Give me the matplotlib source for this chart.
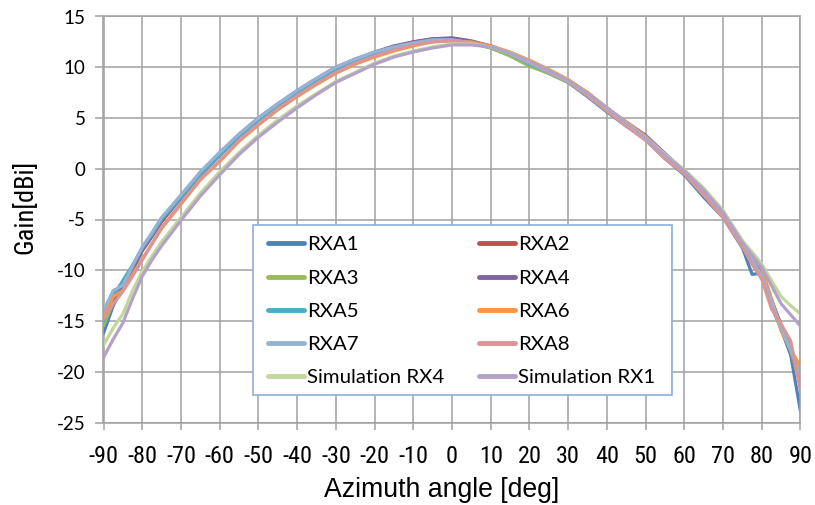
import matplotlib
matplotlib.use("Agg")
import matplotlib.pyplot as plt
from matplotlib import font_manager
from matplotlib.font_manager import FontProperties
from matplotlib.patches import Rectangle

angles = [-90, -87.5, -85, -82.5, -80, -77.5, -75, -70, -65, -60, -55, -50, -45, -40,
          -35, -30, -25, -20, -15, -10, -5, 0, 5, 10, 15, 20, 25, 30, 35, 40, 45, 50,
          55, 60, 65, 70, 75, 77.5, 80, 82.5, 85, 87.5, 90]

rxa1 = [-16.2, -13.5, -11.6, -10.2, -8.0, -6.6, -5.2, -2.9, -0.6, 1.3, 3.2, 4.8, 6.2, 7.5,
        8.7, 9.8, 10.6, 11.3, 11.9, 12.3, 12.6, 12.7, 12.4, 11.9, 11.2, 10.2, 9.4, 8.5,
        7.1, 5.6, 4.2, 2.9, 1.0, -0.6, -2.8, -4.8, -7.8, -10.4, -10.3, -13.5, -15.8, -18.4, -23.9]
rxa2 = [-14.5, -12.5, -11.4, -9.8, -8.1, -6.7, -5.2, -2.8, -0.5, 1.4, 3.2, 4.8, 6.3, 7.6,
        8.8, 9.9, 10.7, 11.4, 12.0, 12.5, 12.8, 12.8, 12.5, 12.1, 11.4, 10.5, 9.6, 8.6,
        7.3, 5.9, 4.5, 3.2, 1.4, -0.2, -2.3, -4.5, -7.4, -8.8, -10.4, -12.9, -15.4, -17.6, -21.0]
rxa3 = [-15.5, -13.2, -11.5, -9.7, -8.0, -6.4, -4.9, -2.6, -0.4, 1.4, 3.2, 4.8, 6.2, 7.5,
        8.7, 9.8, 10.6, 11.3, 11.9, 12.4, 12.7, 12.7, 12.4, 11.9, 11.1, 10.1, 9.4, 8.5,
        7.2, 5.7, 4.3, 3.0, 1.2, -0.4, -2.5, -4.6, -7.5, -9.0, -10.6, -13.2, -15.7, -18.0, -21.3]
rxa4 = [-14.8, -12.9, -11.6, -9.9, -8.0, -6.6, -5.0, -2.7, -0.4, 1.6, 3.4, 5.0, 6.4, 7.7,
        8.9, 10.0, 10.8, 11.5, 12.1, 12.5, 12.8, 12.9, 12.6, 12.1, 11.4, 10.5, 9.6, 8.7,
        7.5, 6.0, 4.6, 3.3, 1.5, -0.2, -2.3, -4.4, -7.3, -8.8, -10.4, -13.0, -15.5, -17.8, -21.0]
rxa5 = [-15.0, -12.6, -11.0, -9.5, -7.8, -6.5, -5.0, -2.8, -0.5, 1.3, 3.2, 4.8, 6.2, 7.5,
        8.7, 9.8, 10.6, 11.3, 11.9, 12.3, 12.6, 12.7, 12.4, 12.0, 11.3, 10.3, 9.5, 8.6,
        7.2, 5.8, 4.3, 3.0, 1.2, -0.4, -2.6, -4.7, -7.6, -9.1, -10.6, -13.1, -15.6, -17.9, -20.5]
rxa6 = [-14.6, -12.6, -12.0, -10.4, -8.9, -7.4, -5.9, -3.5, -1.1, 0.7, 2.7, 4.3, 5.8, 7.1,
        8.3, 9.4, 10.3, 11.0, 11.6, 12.1, 12.5, 12.6, 12.5, 12.1, 11.5, 10.7, 9.8, 8.8,
        7.5, 6.0, 4.6, 3.2, 1.4, -0.2, -2.2, -4.3, -7.1, -8.5, -9.8, -12.8, -16.0, -17.8, -19.5]
rxa7 = [-14.0, -12.0, -11.5, -9.6, -7.7, -6.3, -4.8, -2.6, -0.3, 1.6, 3.4, 5.0, 6.4, 7.7,
        8.9, 10.0, 10.8, 11.5, 12.0, 12.4, 12.7, 12.7, 12.4, 12.0, 11.3, 10.4, 9.5, 8.6,
        7.3, 5.8, 4.4, 3.1, 1.4, -0.3, -2.4, -4.6, -7.5, -9.0, -10.5, -13.1, -15.7, -17.9, -20.4]
rxa8 = [-14.8, -13.3, -12.1, -10.6, -9.0, -7.4, -5.8, -3.4, -1.0, 0.8, 2.8, 4.4, 5.9, 7.2,
        8.4, 9.5, 10.4, 11.1, 11.7, 12.2, 12.5, 12.6, 12.4, 12.0, 11.4, 10.5, 9.6, 8.6,
        7.2, 5.7, 4.2, 2.8, 1.0, -0.5, -2.6, -4.8, -7.7, -9.4, -10.9, -13.8, -15.3, -17.0, -21.9]
sim_rx4 = [-17.4, -15.7, -14.3, -12.0, -10.1, -8.6, -7.2, -4.8, -2.4, -0.3, 1.6, 3.3, 4.8, 6.2,
           7.4, 8.6, 9.5, 10.4, 11.1, 11.6, 12.0, 12.3, 12.3, 12.0, 11.4, 10.6, 9.7, 8.7,
           7.4, 6.0, 4.5, 3.0, 1.4, -0.1, -1.9, -4.1, -7.1, -8.2, -9.4, -11.0, -12.6, -13.5, -14.3]
sim_rx1 = [-18.6, -16.8, -15.2, -12.8, -10.6, -9.0, -7.6, -5.1, -2.7, -0.6, 1.4, 3.1, 4.6, 6.0,
           7.3, 8.5, 9.4, 10.3, 11.0, 11.5, 11.9, 12.2, 12.2, 12.0, 11.4, 10.6, 9.7, 8.7,
           7.4, 6.0, 4.5, 3.0, 1.3, -0.2, -2.1, -4.3, -7.3, -8.5, -9.7, -11.5, -13.3, -14.4, -15.5]

series_names = ["RXA1", "RXA2", "RXA3", "RXA4", "RXA5", "RXA6", "RXA7", "RXA8",
                "Simulation RX4", "Simulation RX1"]
series_values = [rxa1, rxa2, rxa3, rxa4, rxa5, rxa6, rxa7, rxa8, sim_rx4, sim_rx1]
colors = ["#4F81BD", "#C0504D", "#9BBB59", "#8064A2", "#4BACC6", "#F79646",
          "#95B3D7", "#D99694", "#C3D69B", "#B3A2C7"]

x_ticks = list(range(-90, 91, 10))
y_ticks = list(range(-25, 16, 5))


def find_narrow():
    entries = font_manager.fontManager.ttflist
    prefs = ["Liberation Sans Narrow", "Roboto Condensed", "Open Sans Condensed"]
    for p in prefs:
        for f in entries:
            if f.name == p and f.style == "normal" and f.weight in (400, "normal", "regular"):
                return FontProperties(fname=f.fname), True
    for f in entries:
        if ("Narrow" in f.name or "Condensed" in f.name or
                str(f.stretch) in ("condensed", "semi-condensed")) \
                and f.style == "normal" and f.weight in (400, "normal", "regular") \
                and "Mono" not in f.name and "Serif" not in f.name:
            return FontProperties(fname=f.fname), True
    return FontProperties(family="Liberation Sans"), False


narrow_fp, is_narrow = find_narrow()

plt.rcParams["axes.unicode_minus"] = False

W, H = 815, 505
fig = plt.figure(figsize=(8.15, 5.05), dpi=100)
ax_l, ax_r, ax_t, ax_b = 103.5, 800.5, 16.5, 422.5
ax = fig.add_axes([ax_l / W, (H - ax_b) / H, (ax_r - ax_l) / W, (ax_b - ax_t) / H])


def px_to_axes(px, py):
    return (px - ax_l) / (ax_r - ax_l), (ax_b - py) / (ax_b - ax_t)


lines = []
for name, vals, c in zip(series_names, series_values, colors):
    ln, = ax.plot(angles, vals, color=c, lw=2.3, label=name, solid_capstyle="round")
    lines.append(ln)

ax.set_xlim(-90, 90)
ax.set_ylim(-25, 15)
ax.set_xticks(x_ticks)
ax.set_yticks(y_ticks)
xt_fp = narrow_fp.copy()
xt_fp.set_size(17.5 if is_narrow else 15)
ax.set_xticklabels([str(v) for v in x_ticks], fontproperties=xt_fp)
ax.set_yticklabels([str(v) for v in y_ticks], fontfamily="Lato", fontsize=13.5)
ax.grid(True, color="#A0A0A0", lw=1.1)
ax.set_axisbelow(True)
for s in ax.spines.values():
    s.set_color("#A0A0A0")
    s.set_linewidth(1.1)
ax.tick_params(axis="x", direction="out", length=5, color="#A0A0A0", width=1.1, pad=11)
ax.tick_params(axis="y", direction="out", length=6, color="#A0A0A0", width=1.1, pad=7)

ax.set_xlabel("Azimuth angle [deg]", fontfamily="Liberation Sans", fontsize=19.2)
ax.xaxis.set_label_coords(*px_to_axes(442, 490))
ax.xaxis.label.set_va("center")
yl_fp = narrow_fp.copy()
yl_fp.set_size(19 if is_narrow else 16)
ax.set_ylabel("Gain[dBi]", fontproperties=yl_fp)
ax.yaxis.set_label_coords(*px_to_axes(25, 207))
ax.yaxis.label.set_va("center")

# legend box
bx0, by0 = px_to_axes(253, 395)
bx1, by1 = px_to_axes(672, 225)
ax.add_patch(Rectangle((bx0, by0), bx1 - bx0, by1 - by0, transform=ax.transAxes,
                       facecolor="white", edgecolor="#8EAEDB", lw=1.2, zorder=4))

order = [0, 2, 4, 6, 8, 1, 3, 5, 7, 9]
lx, ly = px_to_axes(258, 226)
leg = ax.legend([lines[i] for i in order], [series_names[i] for i in order],
                loc="upper left", bbox_to_anchor=(lx, ly),
                ncol=2, frameon=False, prop={"family": "Lato", "size": 14.7},
                handlelength=1.75, handletextpad=0.15, labelspacing=0.78,
                borderaxespad=0, borderpad=0.5, columnspacing=1.7)
leg.set_zorder(5)
for h in leg.get_lines():
    h.set_linewidth(3.5)

fig.savefig("out.png", dpi=100)
